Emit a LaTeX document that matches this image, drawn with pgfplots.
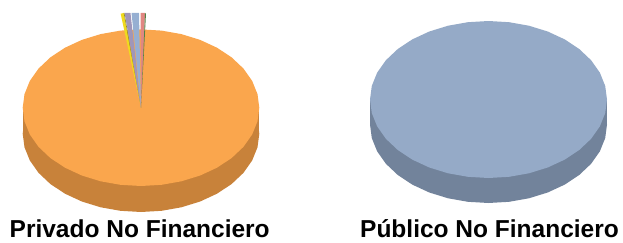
\documentclass[border=0pt]{standalone}
\usepackage{pgfplots}
\pgfplotsset{compat=1.18}
\usepackage{pgfplotstable}
\usepackage{fontspec}
\setmainfont{Liberation Sans}
\definecolor{orTop}{RGB}{250,166,77}
\definecolor{orSide}{RGB}{200,130,58}
\definecolor{blTop}{RGB}{149,170,199}
\definecolor{blSide}{RGB}{114,131,155}
\definecolor{slYellow}{RGB}{240,218,30}
\definecolor{slOlive}{RGB}{150,140,20}
\definecolor{slPurple}{RGB}{160,150,185}
\definecolor{slBlue}{RGB}{150,175,210}
\definecolor{slRed}{RGB}{225,135,130}
\definecolor{slGreen}{RGB}{80,130,70}
% unit ellipse outline (every 10 degrees)
\pgfplotstableread{
x y
1 0
0.9848 0.1736
0.9397 0.3420
0.8660 0.5
0.7660 0.6428
0.6428 0.7660
0.5 0.8660
0.3420 0.9397
0.1736 0.9848
0 1
-0.1736 0.9848
-0.3420 0.9397
-0.5 0.8660
-0.6428 0.7660
-0.7660 0.6428
-0.8660 0.5
-0.9397 0.3420
-0.9848 0.1736
-1 0
-0.9848 -0.1736
-0.9397 -0.3420
-0.8660 -0.5
-0.7660 -0.6428
-0.6428 -0.7660
-0.5 -0.8660
-0.3420 -0.9397
-0.1736 -0.9848
0 -1
0.1736 -0.9848
0.3420 -0.9397
0.5 -0.8660
0.6428 -0.7660
0.7660 -0.6428
0.8660 -0.5
0.9397 -0.3420
0.9848 -0.1736
}\ellipse
\pgfplotsset{pieaxis/.style={scale only axis, axis lines=none, xmin=-1, xmax=1, ymin=-1, ymax=1,
  clip=false, anchor=center, xtick=\empty, ytick=\empty, no markers}}
\begin{document}
\begin{tikzpicture}
\useasboundingbox (0,0) rectangle (623pt,242pt);
% Privado No Financiero
\begin{axis}[pieaxis, width=236.6pt, height=156.6pt, at={(141pt,134.3pt)}]
\addplot[fill=orSide, draw=none, yshift=-26pt] table {\ellipse} -- cycle;
\addplot[fill=orSide, draw=none] coordinates {(-1,0) (1,0) (1,-0.332) (-1,-0.332)} -- cycle;
\addplot[fill=orTop, draw=none] table {\ellipse} -- cycle;
\addplot[fill=slYellow, draw=none] coordinates {(0,0) (-0.172,1.20) (-0.146,1.21)} -- cycle;
\addplot[fill=slOlive, draw=none] coordinates {(0,0) (-0.146,1.21) (-0.140,1.21)} -- cycle;
\addplot[fill=slPurple, draw=none] coordinates {(0,0) (-0.139,1.21) (-0.089,1.21)} -- cycle;
\addplot[fill=slBlue, draw=none] coordinates {(0,0) (-0.080,1.21) (-0.017,1.21)} -- cycle;
\addplot[fill=slRed, draw=none] coordinates {(0,0) (-0.004,1.21) (0.034,1.21)} -- cycle;
\addplot[fill=slGreen, draw=none] coordinates {(0,0) (0.034,1.21) (0.042,1.20)} -- cycle;
\end{axis}
% Publico No Financiero
\begin{axis}[pieaxis, width=237pt, height=157pt, at={(488.5pt,142.5pt)}]
\addplot[fill=blSide, draw=none, yshift=-25pt] table {\ellipse} -- cycle;
\addplot[fill=blSide, draw=none] coordinates {(-1,0) (1,0) (1,-0.318) (-1,-0.318)} -- cycle;
\addplot[fill=blTop, draw=none] table {\ellipse} -- cycle;
\end{axis}
\node[anchor=base, inner sep=0pt, font=\bfseries\fontsize{24.5}{28}\selectfont] at (139.7pt,5pt) {Privado No Financiero};
\node[anchor=base, inner sep=0pt, font=\bfseries\fontsize{24.5}{28}\selectfont] at (489.5pt,5pt) {Público No Financiero};
\end{tikzpicture}
\end{document}
